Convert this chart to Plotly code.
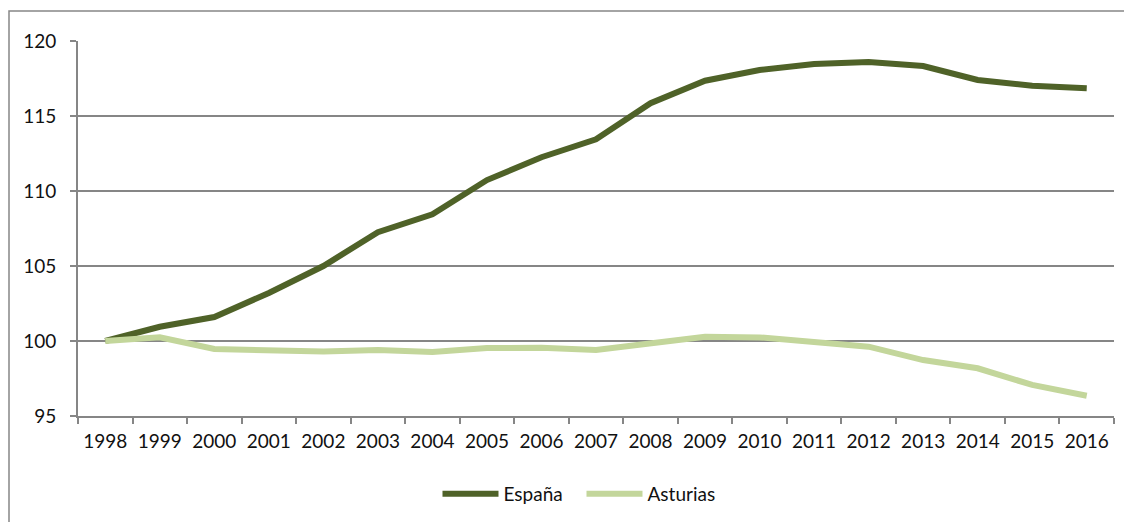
import plotly.graph_objects as go

years = [str(y) for y in range(1998, 2017)]
espana = [100.0, 100.95, 101.6, 103.2, 105.0, 107.25, 108.45, 110.73, 112.25, 113.45,
          115.85, 117.35, 118.07, 118.47, 118.6, 118.33, 117.4, 117.02, 116.85]
asturias = [100.0, 100.25, 99.47, 99.4, 99.3, 99.4, 99.27, 99.53, 99.55, 99.4,
            99.85, 100.29, 100.24, 99.97, 99.62, 98.73, 98.18, 97.07, 96.35]

# page body has an 8px margin, so figure coordinates are page coordinates minus 8
OFF = 8
W, H = 1124, 514
L, R, T, B = 78 - OFF, 18, 41 - OFF, 106
pw, ph = W - L - R, H - T - B

grid = "#868686"
font = dict(family="Lato, 'Open Sans', sans-serif", size=19, color="#111111")

fig = go.Figure()
fig.add_trace(go.Scatter(x=years, y=espana, name="España", mode="lines",
                         line=dict(color="#4F6228", width=6)))
fig.add_trace(go.Scatter(x=years, y=asturias, name="Asturias", mode="lines",
                         line=dict(color="#C3D69B", width=6)))

def px_to_paper_x(px):
    return (px - OFF - L) / pw

def px_to_paper_y(py):
    return 1 - (py - OFF - T) / ph

fig.add_shape(type="rect", xref="paper", yref="paper",
              x0=px_to_paper_x(9), x1=px_to_paper_x(1131),
              y0=px_to_paper_y(540), y1=px_to_paper_y(11),
              line=dict(color=grid, width=1.5), fillcolor="rgba(0,0,0,0)", layer="below")

fig.update_layout(
    width=W, height=H,
    margin=dict(l=L, r=R, t=T, b=B, pad=0, autoexpand=False),
    paper_bgcolor="white", plot_bgcolor="white",
    font=font,
    showlegend=True,
    legend=dict(orientation="h", x=0.486, xanchor="center", y=px_to_paper_y(494), yanchor="middle",
                font=font, itemwidth=56, entrywidth=73, traceorder="normal",
                bgcolor="rgba(0,0,0,0)"),
    xaxis=dict(type="category", tickson="boundaries", ticks="outside", ticklen=6,
               tickcolor=grid, tickwidth=1.5, showline=True, linecolor=grid, linewidth=2,
               showgrid=False, tickfont=font, range=[-0.5, 18.5], ticklabelstandoff=7),
    yaxis=dict(range=[95, 120], dtick=5, tick0=95, ticks="outside", ticklen=6,
               tickcolor=grid, tickwidth=1.5, showline=True, linecolor=grid, linewidth=2,
               showgrid=True, gridcolor=grid, gridwidth=1.5, tickfont=font,
               ticklabelstandoff=10, zeroline=False),
)

fig.write_html("out.html")
